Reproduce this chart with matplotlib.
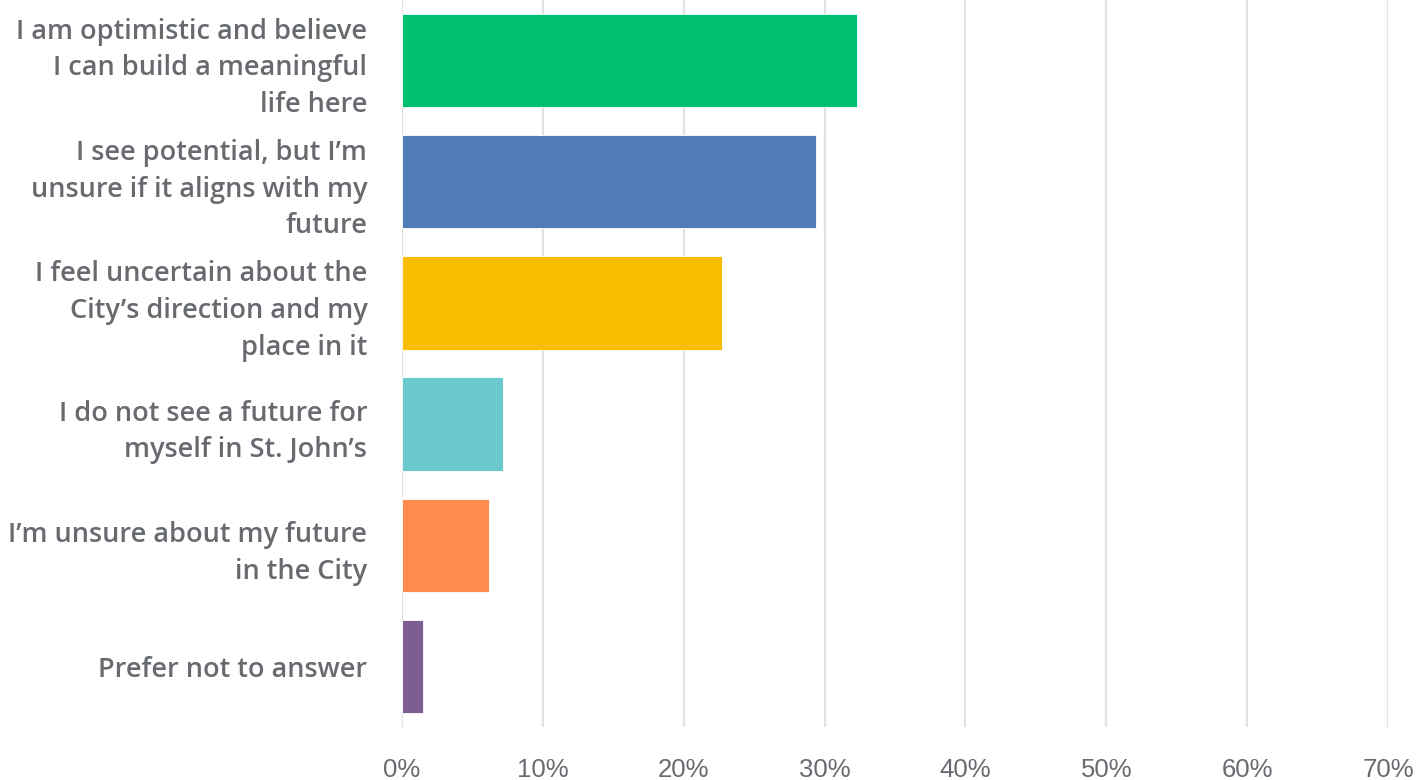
import matplotlib
matplotlib.use("Agg")
import matplotlib.pyplot as plt
from matplotlib.ticker import FuncFormatter, MultipleLocator

# Survey responses, percent of respondents
labels = [
    "I am optimistic and believe\nI can build a meaningful\nlife here",
    "I see potential, but I\u2019m\nunsure if it aligns with my\nfuture",
    "I feel uncertain about the\nCity\u2019s direction and my\nplace in it",
    "I do not see a future for\nmyself in St. John\u2019s",
    "I\u2019m unsure about my future\nin the City",
    "Prefer not to answer",
]
values = [32.3, 29.4, 22.7, 7.2, 6.2, 1.5]
colors = ["#00bf6f", "#507cb6", "#f9be00", "#6bc8cd", "#ff8b4f", "#7d5e90"]
ticks = [0, 10, 20, 30, 40, 50, 60, 70]

TEXT = "#676b70"

fig = plt.figure(figsize=(14.21, 7.80), dpi=100)
ax = fig.add_axes([402 / 1421, 1 - 727 / 780, (1388 - 402) / 1421, 727 / 780])

pos = list(range(len(labels)))
ax.barh(pos, values, height=0.77, color=colors, edgecolor="white",
        linewidth=0.6, zorder=3)

ax.set_xlim(0, 70)
ax.set_ylim(len(labels) - 0.5, -0.5)
ax.set_xticks(ticks)
ax.xaxis.set_major_formatter(FuncFormatter(lambda v, _: f"{v:.0f}%"))
ax.grid(axis="x", color="#e2e2e2", linewidth=1.6, zorder=0)
ax.set_axisbelow(True)
for side in ax.spines.values():
    side.set_visible(False)

ax.set_yticks(pos)
ax.set_yticklabels(labels, family=["Open Sans", "DejaVu Sans"],
                   fontsize=19.5, fontweight="semibold", color=TEXT,
                   linespacing=1.42, ha="right")
ax.tick_params(axis="y", length=0, pad=25)
ax.tick_params(axis="x", length=0, pad=22, labelsize=18.5, labelcolor=TEXT)
for t in ax.get_xticklabels():
    t.set_family(["Liberation Sans Narrow", "Liberation Sans", "DejaVu Sans"])

fig.savefig("out.png", dpi=100, facecolor="white")
